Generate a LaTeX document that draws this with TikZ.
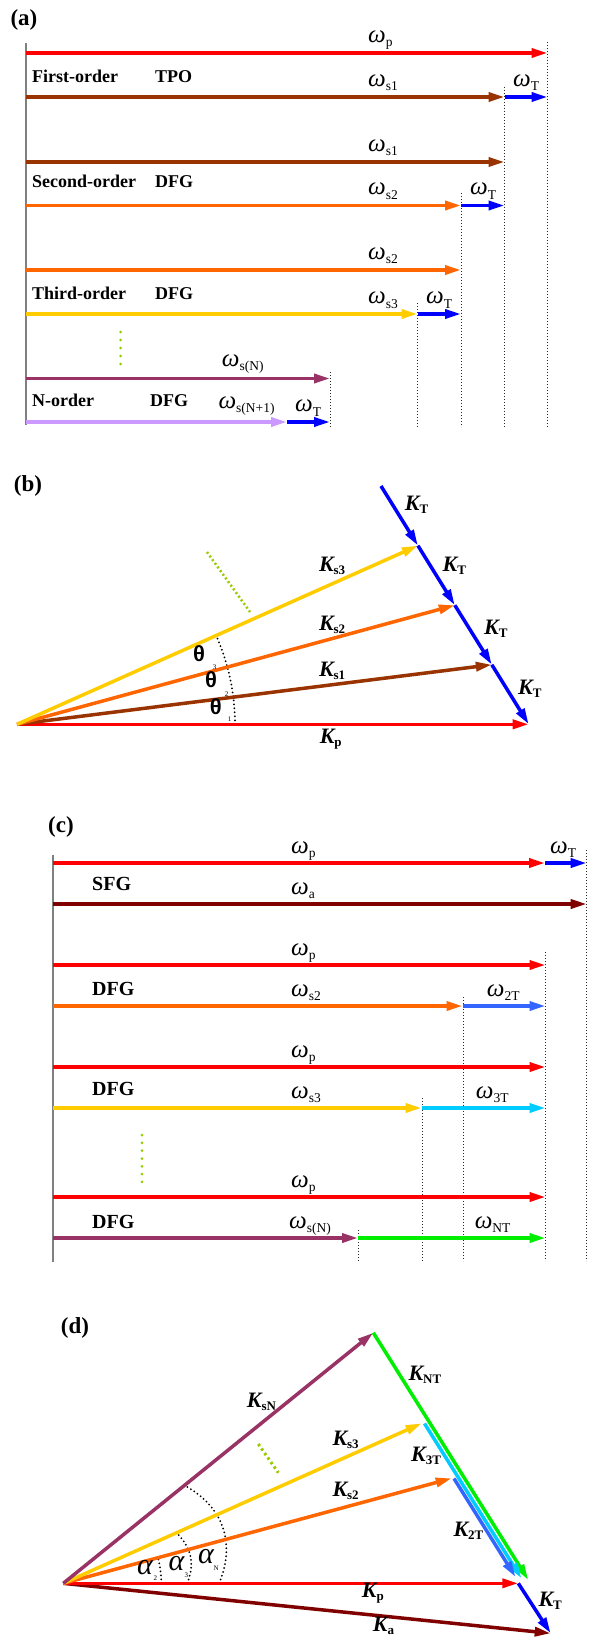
\documentclass[tikz,border=0pt]{standalone}
\usepackage{fontspec}
\setmainfont{Liberation Serif}
\newfontfamily\sansfam{Liberation Sans}
\usetikzlibrary{arrows.meta}
\definecolor{cRed}{HTML}{FF0000}
\definecolor{cBrown}{HTML}{993300}
\definecolor{cOrange}{HTML}{FF6600}
\definecolor{cYellow}{HTML}{FFCC00}
\definecolor{cPurple}{HTML}{993366}
\definecolor{cLilac}{HTML}{CC99FF}
\definecolor{cBlue}{HTML}{0000FF}
\definecolor{cMaroon}{HTML}{800000}
\definecolor{cRoyal}{HTML}{3366FF}
\definecolor{cCyan}{HTML}{00CCFF}
\definecolor{cGreen}{HTML}{00EE00}
\definecolor{cDot}{HTML}{99CC00}
\definecolor{cAxis}{HTML}{808080}
\newcommand\myom[1]{{\fontsize{25}{25}\selectfont\itshape ω}\raisebox{-4.5pt}{\fontsize{13.5}{13.5}\selectfont #1}}
\newcommand\myK[1]{{\fontsize{22}{22}\selectfont\bfseries\itshape K}\raisebox{-3pt}{\fontsize{13}{13}\selectfont\bfseries #1}}
\newcommand\mytheta{{\sansfam\bfseries\fontsize{22}{22}\selectfont θ}}
\newcommand\myalpha{{\fontsize{30}{30}\selectfont\itshape α}}
\tikzset{
  vec/.style={line width=3.5pt,-{Triangle[length=16pt,width=9pt]}},
  vline/.style={line width=0.9pt,dash pattern=on 1pt off 2pt,black!85},
  axisline/.style={line width=2pt,cAxis},
  lbl/.style={inner sep=0pt,anchor=base west},
  tiny/.style={inner sep=0pt,anchor=base west,font=\fontsize{7}{7}\selectfont},
  panel/.style={inner sep=0pt,font=\fontsize{23}{23}\selectfont\bfseries},
  procA/.style={inner sep=0pt,anchor=base west,font=\fontsize{18}{18}\selectfont\bfseries},
  procC/.style={inner sep=0pt,anchor=base west,font=\fontsize{20}{20}\selectfont\bfseries},
  greendots/.style={line width=3pt,line cap=round,cDot},
  arcdots/.style={line width=2pt,line cap=round,dash pattern=on 0pt off 4pt,black},
}
\begin{document}
\begin{tikzpicture}[x=1pt,y=-1pt]
\useasboundingbox[fill=white] (0,0) rectangle (593,1637);

%%%%%%%%%%%%%%%%%%%% (a)
\node[panel] (la) at (24,20) {(a)};
\coordinate (av1t) at (547.5,42);  \coordinate (av1b) at (547.5,427);
\coordinate (av2t) at (504.5,87);  \coordinate (av2b) at (504.5,427);
\coordinate (av3t) at (461,193);   \coordinate (av3b) at (461,427);
\coordinate (av4t) at (417.5,303); \coordinate (av4b) at (417.5,427);
\coordinate (av5t) at (330,372);   \coordinate (av5b) at (330,427);
\foreach \i in {1,...,5} {\draw[vline] (av\i t) -- (av\i b);}
\coordinate (aAt) at (25.5,43); \coordinate (aAb) at (25.5,425);
\draw[axisline] (aAt) -- (aAb);
\coordinate (a1s) at (25.5,53);  \coordinate (a1e) at (547.5,53);
\coordinate (a2s) at (25.5,97);  \coordinate (a2m) at (504.5,97); \coordinate (a2e) at (547.5,97);
\coordinate (a3s) at (25.5,162); \coordinate (a3e) at (504.5,162);
\coordinate (a4s) at (25.5,205.5); \coordinate (a4m) at (461,205.5); \coordinate (a4e) at (504.5,205.5);
\coordinate (a5s) at (25.5,270); \coordinate (a5e) at (461,270);
\coordinate (a6s) at (25.5,314); \coordinate (a6m) at (417.5,314); \coordinate (a6e) at (461,314);
\coordinate (a7s) at (25.5,378.5); \coordinate (a7e) at (330,378.5);
\coordinate (a8s) at (25.5,422); \coordinate (a8m) at (287,422); \coordinate (a8e) at (330,422);
\draw[vec,cRed] (a1s) -- (a1e);
\draw[vec,cBrown] (a2s) -- (a2m); \draw[vec,cBlue] (a2m) -- (a2e);
\draw[vec,cBrown] (a3s) -- (a3e);
\draw[vec,cOrange] (a4s) -- (a4m); \draw[vec,cBlue] (a4m) -- (a4e);
\draw[vec,cOrange] (a5s) -- (a5e);
\draw[vec,cYellow] (a6s) -- (a6m); \draw[vec,cBlue] (a6m) -- (a6e);
\draw[vec,cPurple] (a7s) -- (a7e);
\draw[vec,cLilac] (a8s) -- (a8m); \draw[vec,cBlue] (a8m) -- (a8e);
\node[lbl] (wa1) at (368,42.5) {\myom{p}};
\node[lbl] (wa2) at (368,86.5) {\myom{s1}};
\node[lbl] (wa2t) at (513,86.5) {\myom{T}};
\node[lbl] (wa3) at (368,151.5) {\myom{s1}};
\node[lbl] (wa4) at (368,195) {\myom{s2}};
\node[lbl] (wa4t) at (470,195) {\myom{T}};
\node[lbl] (wa5) at (368,259.5) {\myom{s2}};
\node[lbl] (wa6) at (368,303.5) {\myom{s3}};
\node[lbl] (wa6t) at (426,303.5) {\myom{T}};
\node[lbl] (wa7) at (221.7,366) {\myom{s(N)}};
\node[lbl] (wa8) at (218.3,408) {\myom{s(N+1)}};
\node[lbl] (wa8t) at (295,411.5) {\myom{T}};
\node[procA] (pa1) at (32,83) {First-order};
\node[procA] (pa1b) at (155,83) {TPO};
\node[procA] (pa2) at (32,188) {Second-order};
\node[procA] (pa2b) at (155,188) {DFG};
\node[procA] (pa3) at (32,299) {Third-order};
\node[procA] (pa3b) at (155,299) {DFG};
\node[procA] (pa4) at (32,406) {N-order};
\node[procA] (pa4b) at (150,406) {DFG};
\coordinate (adt) at (120.7,332); \coordinate (adb) at (120.7,364.5);
\draw[greendots,dash pattern=on 0pt off 8pt] (adt) -- (adb);

%%%%%%%%%%%%%%%%%%%% (b)
\node[panel] (lb) at (28,486) {(b)};
\coordinate (bO) at (17,724.3);
\coordinate (bP) at (528.7,724.3);
\coordinate (bT0) at (381,486);
\coordinate (bS3) at (417.9,545.6);
\coordinate (bS2) at (454.8,605.2);
\coordinate (bS1) at (491.8,664.7);
\draw[arcdots] plot[domain=0:24,samples=40] ({17+218*cos(\x)},{724.3-218*sin(\x)});
\coordinate (bg1) at (207,552); \coordinate (bg2) at (250,612);
\draw[line width=2.5pt,cDot,dash pattern=on 2pt off 2.5pt] (bg1) -- (bg2);
\draw[vec,cRed] (bO) -- (bP);
\draw[vec,cBrown] (bO) -- (bS1);
\draw[vec,cOrange] (bO) -- (bS2);
\draw[vec,cYellow] (bO) -- (bS3);
\draw[vec,cBlue] (bT0) -- (bS3);
\draw[vec,cBlue] (bS3) -- (bS2);
\draw[vec,cBlue] (bS2) -- (bS1);
\draw[vec,cBlue] (bS1) -- (bP);
\node[lbl] (kbt1) at (404.7,510) {\myK{T}};
\node[lbl] (kbt2) at (442.5,571.7) {\myK{T}};
\node[lbl] (kbt3) at (484,634) {\myK{T}};
\node[lbl] (kbt4) at (518,694) {\myK{T}};
\node[lbl] (kbs3) at (318.8,571) {\myK{s3}};
\node[lbl] (kbs2) at (318.8,630) {\myK{s2}};
\node[lbl] (kbs1) at (318.8,676.7) {\myK{s1}};
\node[lbl] (kbp) at (319.6,743) {\myK{p}};
\node[lbl] (th3) at (193,661.7) {\mytheta};
\node[tiny] (th3s) at (212.6,669) {3};
\node[lbl] (th2) at (205,687.7) {\mytheta};
\node[tiny] (th2s) at (224.7,696.7) {2};
\node[lbl] (th1) at (209.7,714) {\mytheta};
\node[tiny] (th1s) at (227.7,721.7) {1};

%%%%%%%%%%%%%%%%%%%% (c)
\node[panel] (lc) at (61,827) {(c)};
\coordinate (cv1t) at (586.7,850); \coordinate (cv1b) at (586.7,1261);
\coordinate (cv2t) at (545.7,952); \coordinate (cv2b) at (545.7,1261);
\coordinate (cv3t) at (463,997);   \coordinate (cv3b) at (463,1261);
\coordinate (cv4t) at (422,1098);  \coordinate (cv4b) at (422,1261);
\coordinate (cv5t) at (358.5,1230); \coordinate (cv5b) at (358.5,1261);
\foreach \i in {1,...,5} {\draw[vline] (cv\i t) -- (cv\i b);}
\coordinate (cAt) at (53,855); \coordinate (cAb) at (53,1262);
\draw[axisline] (cAt) -- (cAb);
\coordinate (c1s) at (53,863); \coordinate (c1m) at (545,863); \coordinate (c1e) at (586.7,863);
\coordinate (c2s) at (53,904); \coordinate (c2e) at (586.7,904);
\coordinate (c3s) at (53,965); \coordinate (c3e) at (545.5,965);
\coordinate (c4s) at (53,1006); \coordinate (c4m) at (462.5,1006); \coordinate (c4e) at (545.5,1006);
\coordinate (c5s) at (53,1067); \coordinate (c5e) at (545.5,1067);
\coordinate (c6s) at (53,1108); \coordinate (c6m) at (421.5,1108); \coordinate (c6e) at (545.5,1108);
\coordinate (c7s) at (53,1197); \coordinate (c7e) at (545.5,1197);
\coordinate (c8s) at (53,1238); \coordinate (c8m) at (358,1238); \coordinate (c8e) at (545.5,1238);
\draw[vec,cRed] (c1s) -- (c1m); \draw[vec,cBlue] (c1m) -- (c1e);
\draw[vec,cMaroon] (c2s) -- (c2e);
\draw[vec,cRed] (c3s) -- (c3e);
\draw[vec,cOrange] (c4s) -- (c4m); \draw[vec,cRoyal] (c4m) -- (c4e);
\draw[vec,cRed] (c5s) -- (c5e);
\draw[vec,cYellow] (c6s) -- (c6m); \draw[vec,cCyan] (c6m) -- (c6e);
\draw[vec,cRed] (c7s) -- (c7e);
\draw[vec,cPurple] (c8s) -- (c8m); \draw[vec,cGreen] (c8m) -- (c8e);
\node[lbl] (wc1) at (291,853) {\myom{p}};
\node[lbl] (wc1t) at (550,853) {\myom{T}};
\node[lbl] (wc2) at (291,894) {\myom{a}};
\node[lbl] (wc3) at (291,955) {\myom{p}};
\node[lbl] (wc4) at (291,996) {\myom{s2}};
\node[lbl] (wc4t) at (486.7,996) {\myom{2T}};
\node[lbl] (wc5) at (291,1057) {\myom{p}};
\node[lbl] (wc6) at (291,1098) {\myom{s3}};
\node[lbl] (wc6t) at (475.7,1098) {\myom{3T}};
\node[lbl] (wc7) at (291,1187) {\myom{p}};
\node[lbl] (wc8) at (289,1228) {\myom{s(N)}};
\node[lbl] (wc8t) at (474.6,1228) {\myom{NT}};
\node[procC] (pc1) at (92,890) {SFG};
\node[procC] (pc2) at (92,995) {DFG};
\node[procC] (pc3) at (92,1095) {DFG};
\node[procC] (pc4) at (92,1228) {DFG};
\coordinate (cdt) at (142,1135); \coordinate (cdb) at (142,1182.2);
\draw[greendots,dash pattern=on 0pt off 7.83pt] (cdt) -- (cdb);

%%%%%%%%%%%%%%%%%%%% (d)
\node[panel] (ld) at (75,1327.5) {(d)};
\coordinate (dO) at (63.3,1583.3);
\coordinate (dP) at (518.3,1583.3);
\coordinate (dA) at (550.7,1633.3);
\coordinate (dN) at (373.3,1332.7);
\coordinate (dNe) at (528.3,1580);
\coordinate (dS3) at (421.7,1423.3);
\coordinate (d3s) at (424.5,1423.5); \coordinate (d3e) at (521.5,1578.5);
\coordinate (dS2) at (451.7,1478.3);
\coordinate (d2s) at (454,1478.5); \coordinate (d2e) at (515.5,1577);
\draw[arcdots] plot[domain=0:15.1,samples=25] ({63.3+98*cos(\x)},{1583.3-98*sin(\x)});
\draw[arcdots] plot[domain=0:24.06,samples=35] ({63.3+(124+6*sin(\x*7.5))*cos(\x)},{1583.3-(124+6*sin(\x*7.5))*sin(\x)});
\draw[arcdots] plot[domain=0:38.9,samples=50] ({63.3+(156+13*sin(\x*4.627))*cos(\x)},{1583.3-(156+13*sin(\x*4.627))*sin(\x)});
\coordinate (dg1) at (258.3,1444); \coordinate (dg2) at (278.3,1472.7);
\draw[line width=3pt,cDot,dash pattern=on 2.5pt off 3pt] (dg1) -- (dg2);
\draw[vec,cMaroon] (dO) -- (dA);
\draw[vec,cRed] (dO) -- (dP);
\draw[vec,cOrange] (dO) -- (dS2);
\draw[vec,cYellow] (dO) -- (dS3);
\draw[vec,cPurple] (dO) -- (dN);
\draw[vec,cGreen] (dN) -- (dNe);
\draw[vec,cCyan] (d3s) -- (d3e);
\draw[vec,cRoyal] (d2s) -- (d2e);
\draw[vec,cBlue] (dP) -- (dA);
\node[lbl] (kdsn) at (246.7,1407.3) {\myK{sN}};
\node[lbl] (kdnt) at (408.3,1380.7) {\myK{NT}};
\node[lbl] (kds3) at (332.3,1445) {\myK{s3}};
\node[lbl] (kd3t) at (411,1461.7) {\myK{3T}};
\node[lbl] (kds2) at (332.3,1496.7) {\myK{s2}};
\node[lbl] (kd2t) at (453.3,1536.7) {\myK{2T}};
\node[lbl] (kdp) at (361.7,1597.7) {\myK{p}};
\node[lbl] (kdt) at (538.3,1606) {\myK{T}};
\node[lbl] (kda) at (372.7,1631) {\myK{a}};
\node[lbl] (al2) at (137,1574) {\myalpha};
\node[tiny] (al2s) at (153.3,1580.7) {2};
\node[lbl] (al3) at (168.5,1570) {\myalpha};
\node[tiny] (al3s) at (184.3,1577.3) {3};
\node[lbl] (alN) at (198,1563.3) {\myalpha};
\node[tiny] (alNs) at (213.3,1570) {N};
\end{tikzpicture}
\end{document}
